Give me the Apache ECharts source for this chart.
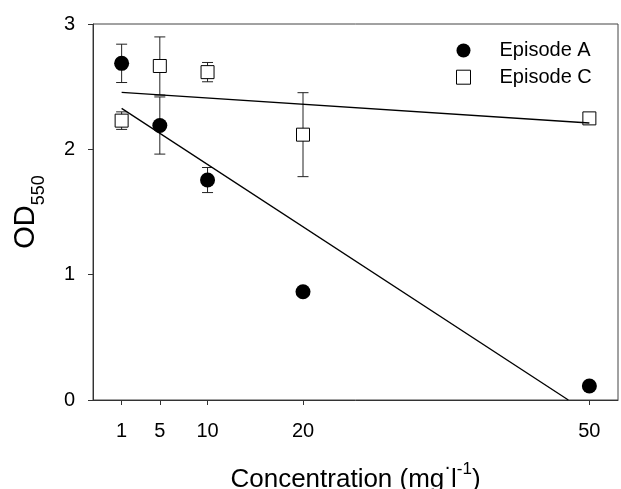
<!DOCTYPE html>
<html>
<head>
<meta charset="utf-8">
<title>OD550 vs concentration</title>
<script src="https://cdn.jsdelivr.net/npm/echarts@6/dist/echarts.min.js"></script>
<style>
  html, body { margin: 0; padding: 0; background: #fff; }
  #chart { width: 621px; height: 489px; }
</style>
</head>
<body>
<div id="chart"></div>
<script>
// concentrations (mg/l)
const conc = [1, 5, 10, 20, 50];
const xTicks = [1, 5, 10, 20, 50];

// Episode A (filled circles)
const odA = [2.686, 2.19, 1.755, 0.864, 0.112];
const errA = [0.153, 0.228, 0.1, 0, 0];

// Episode C (open squares)
const odC = [2.229, 2.665, 2.616, 2.117, 2.247];
const errC = [0.07, 0.232, 0.077, 0.335, 0];

// regression lines (end points)
const fitA = [[1, 2.327], [47.8, 0]];
const fitC = [[1, 2.455], [50, 2.21]];

const FONT = 'Liberation Sans';

const chart = echarts.init(document.getElementById('chart'));

// vertical error bar with caps
function errorBar(params, api) {
  const x = api.value(0);
  const y = api.value(1);
  const e = api.value(2);
  if (!e) return null;
  const top = api.coord([x, y + e]);
  const bot = api.coord([x, y - e]);
  const w = 5.5;
  const style = { stroke: '#222', lineWidth: 1 };
  return {
    type: 'group',
    children: [
      { type: 'line', shape: { x1: top[0], y1: top[1], x2: bot[0], y2: bot[1] }, style: style },
      { type: 'line', shape: { x1: top[0] - w, y1: top[1], x2: top[0] + w, y2: top[1] }, style: style },
      { type: 'line', shape: { x1: bot[0] - w, y1: bot[1], x2: bot[0] + w, y2: bot[1] }, style: style }
    ]
  };
}

const option = {
  animation: false,
  grid: {
    left: 93,
    right: 3,
    top: 24,
    bottom: 89,
    outerBoundsMode: 'none',
    show: true,
    borderColor: '#444',
    borderWidth: 1
  },
  legend: {
    orient: 'vertical',
    left: 451,
    top: 35.5,
    itemWidth: 14,
    itemHeight: 14,
    itemGap: 6.7,
    selectedMode: false,
    textStyle: {
      fontFamily: FONT,
      fontSize: 20,
      color: '#000',
      padding: [0, 0, 0, 24]
    },
    data: [
      { name: 'Episode A', itemStyle: { borderWidth: 0 } },
      { name: 'Episode C', itemStyle: { color: '#fff', borderColor: '#000', borderWidth: 1 } }
    ]
  },
  xAxis: {
    type: 'value',
    min: -2,
    max: 53,
    name: '{t|Concentration (mg}{d|·}{t|l}{s|-1}{t|)}',
    nameLocation: 'middle',
    nameGap: 57,
    nameTextStyle: {
      rich: {
        t: { fontFamily: FONT, fontSize: 26, color: '#000', lineHeight: 36, verticalAlign: 'bottom' },
        d: { fontFamily: FONT, fontSize: 20, color: '#000', lineHeight: 30, verticalAlign: 'top' },
        s: { fontFamily: FONT, fontSize: 17, color: '#000', lineHeight: 17, padding: [4, 0, 0, 0], verticalAlign: 'top' }
      }
    },
    splitLine: { show: false },
    axisLine: { onZero: false, lineStyle: { color: '#333', width: 1 } },
    axisTick: { customValues: xTicks, length: 5, lineStyle: { color: '#333' } },
    axisLabel: {
      customValues: xTicks,
      fontFamily: FONT,
      fontSize: 20,
      color: '#000',
      margin: 21
    }
  },
  yAxis: {
    type: 'value',
    min: 0,
    max: 3,
    interval: 1,
    name: '{a|OD}{b|550}',
    nameLocation: 'middle',
    nameGap: 52,
    nameTextStyle: {
      rich: {
        a: { fontFamily: FONT, fontSize: 29, color: '#000', lineHeight: 30, verticalAlign: 'top' },
        b: { fontFamily: FONT, fontSize: 18, color: '#000', lineHeight: 18, padding: [19, 0, 0, 0], verticalAlign: 'top' }
      }
    },
    splitLine: { show: false },
    axisLine: { show: true, onZero: false, lineStyle: { color: '#333', width: 1 } },
    axisTick: { show: true, length: 5, lineStyle: { color: '#333' } },
    axisLabel: {
      fontFamily: FONT,
      fontSize: 20,
      color: '#000',
      margin: 18
    }
  },
  series: [
    {
      name: 'errA',
      type: 'custom',
      silent: true,
      renderItem: errorBar,
      data: conc.map((c, i) => [c, odA[i], errA[i]]),
      z: 1
    },
    {
      name: 'errC',
      type: 'custom',
      silent: true,
      renderItem: errorBar,
      data: conc.map((c, i) => [c, odC[i], errC[i]]),
      z: 1
    },
    {
      name: 'Episode A',
      type: 'scatter',
      symbol: 'circle',
      symbolSize: 15,
      itemStyle: { color: '#000', opacity: 1 },
      data: conc.map((c, i) => [c, odA[i]]),
      z: 2
    },
    {
      name: 'Episode C',
      type: 'scatter',
      symbol: 'rect',
      symbolSize: 13,
      itemStyle: { color: '#fff', borderColor: '#000', borderWidth: 1, opacity: 1 },
      data: conc.map((c, i) => [c, odC[i]]),
      z: 2
    },
    {
      name: 'fitA',
      type: 'line',
      showSymbol: false,
      silent: true,
      lineStyle: { color: '#000', width: 1.3 },
      data: fitA,
      z: 3
    },
    {
      name: 'fitC',
      type: 'line',
      showSymbol: false,
      silent: true,
      lineStyle: { color: '#000', width: 1.3 },
      data: fitC,
      z: 3
    }
  ]
};

chart.setOption(option);
</script>
</body>
</html>
